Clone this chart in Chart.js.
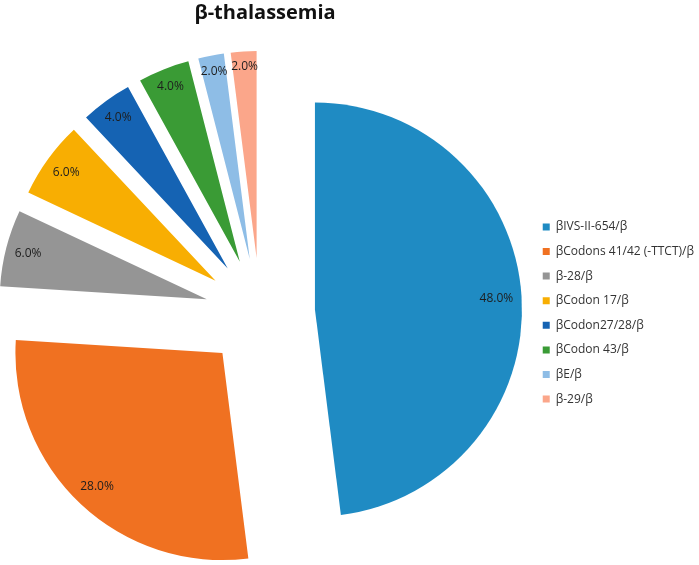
<!DOCTYPE html>
<html>
<head>
<meta charset="utf-8">
<script src="https://cdn.jsdelivr.net/npm/chart.js@4.4.1/dist/chart.umd.min.js"></script>
<style>
html, body { margin: 0; padding: 0; background: #ffffff; }
#wrap { width: 699px; height: 565px; position: relative; }
</style>
</head>
<body>
<div id="wrap"><canvas id="c"></canvas></div>
<script>
// ---- data ----
const chartTitle = 'β-thalassemia';
const categories = [
  'βIVS-II-654/β',
  'βCodons 41/42 (-TTCT)/β',
  'β-28/β',
  'βCodon 17/β',
  'βCodon27/28/β',
  'βCodon 43/β',
  'βE/β',
  'β-29/β'
];
const percentages = [48, 28, 6, 6, 4, 4, 2, 2];
const sliceColors = ['#1f8bc3', '#f07121', '#959595', '#f8ae02', '#1563b3', '#3a9b35', '#8ebde6', '#fba68a'];

// ---- style ----
const explodeDistance = 55;
const pieRadius = 207;
const labelInset = 8;
const labelFontSize = 12;
const areaShift = 10;

// explode every slice outward along its bisector (rigid translation of the library's arc)
const explodePlugin = {
  id: 'explode',
  beforeDatasetDraw(chart, args) {
    args.meta.data.forEach(arc => {
      if (arc._exploded) return;
      arc._exploded = true;
      const baseDraw = arc.draw;
      arc.draw = function (ctx, area) {
        const half = (this.startAngle + this.endAngle) / 2;
        ctx.save();
        ctx.translate(Math.cos(half) * explodeDistance, Math.sin(half) * explodeDistance);
        baseDraw.call(this, ctx, area);
        ctx.restore();
      };
    });
  }
};

// percentage labels, placed "inside end" of each slice
const sliceLabels = {
  id: 'sliceLabels',
  afterDatasetsDraw(chart) {
    const meta = chart.getDatasetMeta(0);
    const data = chart.data.datasets[0].data;
    const total = data.reduce((a, b) => a + b, 0);
    const ctx = chart.ctx;
    ctx.save();
    ctx.font = labelFontSize + 'px "Open Sans"';
    ctx.fillStyle = '#1e1e1e';
    ctx.textAlign = 'center';
    ctx.textBaseline = 'middle';
    meta.data.forEach((arc, i) => {
      const p = arc.getProps(['x', 'y', 'startAngle', 'endAngle', 'outerRadius'], true);
      const half = (p.startAngle + p.endAngle) / 2;
      const ux = Math.cos(half), uy = Math.sin(half);
      const text = (data[i] / total * 100).toFixed(1) + '%';
      const w = ctx.measureText(text).width;
      const d = explodeDistance + p.outerRadius - labelInset - (Math.abs(ux) * w / 2 + Math.abs(uy) * labelFontSize / 2);
      ctx.fillText(text, p.x + ux * d, p.y + uy * d);
    });
    ctx.restore();
  }
};

const shiftArea = {
  id: 'shiftArea',
  afterLayout(chart) {
    chart.chartArea.left -= areaShift;
    chart.chartArea.width += areaShift;
  }
};

new Chart(document.getElementById('c'), {
  type: 'pie',
  data: {
    labels: categories,
    datasets: [{
      data: percentages,
      backgroundColor: sliceColors,
      borderWidth: 0,
      clip: false
    }]
  },
  options: {
    responsive: true,
    maintainAspectRatio: false,
    animation: false,
    events: [],
    radius: pieRadius,
    layout: { padding: { left: 0, right: -5, top: 0, bottom: 0 } },
    plugins: {
      title: {
        display: true,
        text: chartTitle,
        fullSize: false,
        color: '#111111',
        font: { family: 'Open Sans', size: 20, weight: 'bold' },
        padding: { top: 1, bottom: 36 }
      },
      legend: {
        position: 'right',
        fullSize: false,
        labels: {
          boxWidth: 7,
          boxHeight: 7,
          padding: 12.6,
          color: '#333333',
          font: { family: 'Open Sans', size: 12 }
        }
      },
      tooltip: { enabled: false }
    }
  },
  plugins: [shiftArea, explodePlugin, sliceLabels]
});
</script>
</body>
</html>
